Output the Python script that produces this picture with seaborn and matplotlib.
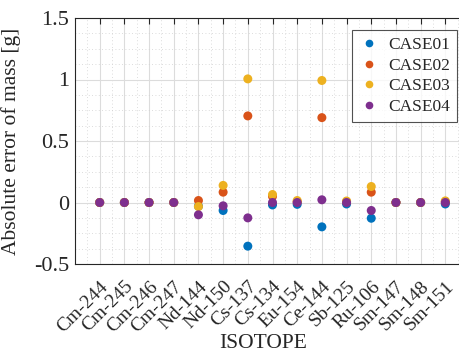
import matplotlib
matplotlib.use("Agg")
import matplotlib.pyplot as plt
import seaborn as sns
import pandas as pd
import numpy as np
from matplotlib.ticker import MultipleLocator

isotopes = ["Cm-244", "Cm-245", "Cm-246", "Cm-247", "Nd-144", "Nd-150", "Cs-137",
            "Cs-134", "Eu-154", "Ce-144", "Sb-125", "Ru-106", "Sm-147", "Sm-148", "Sm-151"]
case01 = [0, 0, 0, 0, -0.03, -0.065, -0.355, -0.02, -0.015, -0.198, -0.012, -0.128, 0, 0, -0.012]
case02 = [0, 0, 0, 0, 0.016, 0.084, 0.704, 0.05, 0.005, 0.69, 0.005, 0.084, 0, 0, 0.005]
case03 = [0, 0, 0, 0, -0.033, 0.139, 1.005, 0.065, 0.016, 0.992, 0.012, 0.13, 0, 0, 0.013]
case04 = [0, 0, 0, 0, -0.10, -0.027, -0.125, 0.0, 0.0, 0.022, 0.0, -0.065, 0, 0, 0.0]
case_names = ["CASE01", "CASE02", "CASE03", "CASE04"]
colors = ["#0072BD", "#D95319", "#EDB120", "#7E2F8E"]

rows = []
for name, vals in zip(case_names, [case01, case02, case03, case04]):
    for i, v in enumerate(vals):
        rows.append({"pos": i + 1, "value": v, "case": name})
df = pd.DataFrame(rows)

sns.set_style("white")
plt.rcParams['font.family'] = ['Liberation Serif', 'DejaVu Serif']

fig = plt.figure(figsize=(4.6, 3.53), dpi=100)
ax = fig.add_axes([75/460, (353-264)/353, (470-75)/460, (264-18)/353])

sns.scatterplot(data=df, x="pos", y="value", hue="case", palette=colors,
                hue_order=case_names, s=42, linewidth=0, marker="o", ax=ax,
                zorder=3)

ax.set_xlim(0, 16)
ax.set_ylim(-0.5, 1.5)
ax.set_xticks(range(1, 16))
ax.set_xticklabels(isotopes, rotation=45, ha="right", va="top", rotation_mode="anchor", fontsize=14)
ax.set_yticks([-0.5, 0, 0.5, 1, 1.5])
ax.set_yticklabels(["-0.5", "0", "0.5", "1", "1.5"], fontsize=16)
ax.xaxis.set_minor_locator(MultipleLocator(0.5))
ax.yaxis.set_minor_locator(MultipleLocator(0.125))
ax.grid(which="major", color="#dcdcdc", linewidth=0.8, zorder=0)
ax.grid(which="minor", color="#d0d0d0", linewidth=0.6, linestyle=(0, (1, 3)), zorder=0)
ax.set_axisbelow(True)
ax.tick_params(which="major", direction="in", length=4, width=0.8, top=True, right=True,
               color="#262626")
ax.tick_params(axis="x", which="major", pad=10)
ax.tick_params(axis="y", which="major", pad=4)
ax.tick_params(which="minor", length=0, top=False, right=False)
for s in ax.spines.values():
    s.set_color("#262626")
    s.set_linewidth(0.8)

ax.set_xlabel("ISOTOPE", fontsize=15.5)
ax.xaxis.label.set_va("center")
ax.xaxis.set_label_coords((263-75)/395, (264-344)/246)
ax.set_ylabel("Absolute error of mass [g]", fontsize=15.5)
ax.yaxis.set_label_coords((21-75)/395, 0.5)

leg = ax.legend(loc="upper right", bbox_to_anchor=((457-75)/395, (264-30)/246),
                fontsize=12.5, frameon=True, fancybox=False, edgecolor="#262626",
                handletextpad=0.5, borderpad=0.4, labelspacing=0.25, handlelength=1.2,
                markerscale=0.85, borderaxespad=0)
leg.get_frame().set_linewidth(0.8)

fig.savefig("out.png", dpi=100)
